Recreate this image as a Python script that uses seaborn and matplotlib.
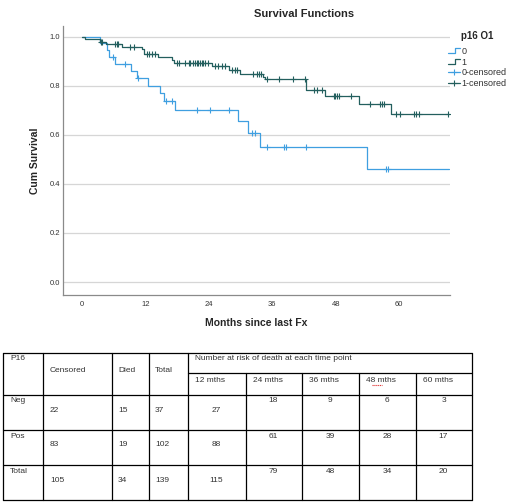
import numpy as np
import pandas as pd
import matplotlib
matplotlib.use("Agg")
import matplotlib.pyplot as plt
from matplotlib.lines import Line2D
from matplotlib.legend_handler import HandlerBase
import seaborn as sns

# Kaplan-Meier steps (months, cum survival)
neg_times = [3.5, 4.7, 5.2, 6.2, 9.3, 10.4, 12.5, 14.8, 15.5, 17.6, 29.6, 31.4, 33.7, 54.0]
neg_surv = [0.973, 0.946, 0.918, 0.889, 0.860, 0.830, 0.800, 0.769, 0.739, 0.700,
            0.655, 0.606, 0.551, 0.460]
neg_censor = [5.9, 8.2, 10.7, 16.0, 17.1, 21.7, 24.2, 27.9, 32.1, 32.8, 35.0, 38.2, 38.6,
              42.3, 57.5, 57.8]

pos_times = [0.6, 3.4, 4.6, 7.6, 11.3, 11.8, 14.4, 17.0, 17.4, 24.6, 27.9, 29.9, 34.2,
             34.6, 42.4, 46.0, 52.4, 58.4]
pos_surv = [0.990, 0.980, 0.970, 0.960, 0.950, 0.930, 0.918, 0.907, 0.895, 0.882, 0.864,
            0.847, 0.836, 0.826, 0.782, 0.760, 0.725, 0.687]
pos_censor = [3.6, 3.8, 6.3, 6.6, 6.9, 9.1, 9.9, 12.3, 12.7, 13.2, 13.9, 17.9, 18.3, 19.5,
              20.2, 20.5, 21.1, 21.4, 21.7, 22.0, 22.4, 22.7, 23.0, 23.3, 23.9, 25.2, 25.8,
              26.5, 27.1, 28.4, 29.0, 29.4, 32.4, 33.1, 33.4, 33.8, 35.0, 37.2, 40.0, 42.2,
              43.8, 44.5, 45.4, 47.6, 47.9, 48.2, 48.7, 50.8, 54.4, 56.3, 56.7, 57.1, 59.4,
              60.2, 62.8, 63.1, 63.8, 69.3]
last_followup = 69.4

x_ticks = [0, 12, 24, 36, 48, 60]
y_ticks = [0.0, 0.2, 0.4, 0.6, 0.8, 1.0]

# table under the chart
tab_groups = ["Neg", "Pos", "Total"]
tab_censored = [22, 83, 105]
tab_died = [15, 19, 34]
tab_total = [37, 102, 139]
risk_points = ["12 mths", "24 mths", "36 mths", "48 mths", "60 mths"]
risk_neg = [27, 18, 9, 6, 3]
risk_pos = [88, 61, 39, 28, 17]
risk_all = [115, 79, 48, 34, 20]

NEG_COL = "#3f9fe0"
POS_COL = "#235f5e"


def step_frame(times, surv, end):
    return pd.DataFrame({"t": [0.0] + list(times) + [end],
                         "s": [1.0] + list(surv) + [surv[-1]]})


def surv_at(times, surv, pts):
    idx = np.searchsorted(times, pts, side="right") - 1
    vals = np.asarray(surv)[np.clip(idx, 0, None)]
    return np.where(idx < 0, 1.0, vals)


class HandlerStep(HandlerBase):
    # little step glyph like the SPSS legend
    def create_artists(self, legend, orig_handle, xdescent, ydescent, width, height,
                       fontsize, trans):
        x0 = -xdescent
        xs = [x0, x0 + width * 0.6, x0 + width * 0.6, x0 + width]
        lo = -ydescent + height * 0.1
        hi = -ydescent + height * 0.85
        ln = Line2D(xs, [lo, lo, hi, hi], color=orig_handle.get_color(),
                    lw=orig_handle.get_linewidth())
        ln.set_transform(trans)
        return [ln]


sns.set_style("white")
plt.rcParams["font.family"] = ["Liberation Sans", "DejaVu Sans"]

W, H = 520, 503
fig = plt.figure(figsize=(5.2, 5.03), dpi=100)
ax = fig.add_axes([63.3 / W, 1 - 295 / H, (450 - 63.3) / W, (295 - 26) / H])

for yv in y_ticks:
    ax.axhline(yv, color="#d6d6d6", lw=0.9, zorder=0)

neg_df = step_frame(neg_times, neg_surv, last_followup)
pos_df = step_frame(pos_times, pos_surv, last_followup)
sns.lineplot(data=neg_df, x="t", y="s", drawstyle="steps-post", estimator=None,
             color=NEG_COL, lw=0.9, ax=ax)
sns.lineplot(data=pos_df, x="t", y="s", drawstyle="steps-post", estimator=None,
             color=POS_COL, lw=0.9, ax=ax)

sns.scatterplot(x=neg_censor, y=surv_at(neg_times, neg_surv, neg_censor), marker="+",
                s=18, color=NEG_COL, linewidth=0.8, ax=ax, zorder=3)
sns.scatterplot(x=pos_censor, y=surv_at(pos_times, pos_surv, pos_censor), marker="+",
                s=18, color=POS_COL, linewidth=0.8, ax=ax, zorder=3)

ax.set_xlim(-3.5, 69.6)
ax.set_ylim(-0.053, 1.044)
ax.set_xticks(x_ticks)
ax.set_yticks(y_ticks)
ax.set_yticklabels([f"{v:.1f}" for v in y_ticks])
ax.tick_params(length=0, labelsize=5.5, labelcolor="#333333")
ax.tick_params(axis="x", pad=4)
ax.tick_params(axis="y", pad=2.5)
ax.set_xlabel("")
ax.set_ylabel("")
for side in ["top", "right"]:
    ax.spines[side].set_visible(False)
for side in ["left", "bottom"]:
    ax.spines[side].set_color("#8a8a8a")
    ax.spines[side].set_linewidth(0.9)

fig.text(304 / W, 1 - 14 / H, "Survival Functions", ha="center", va="center",
         fontsize=8, fontweight="bold")
fig.text(256.5 / W, 1 - 323 / H, "Months since last Fx", ha="center", va="center",
         fontsize=7.5, fontweight="bold")
fig.text(35 / W, 1 - 160.5 / H, "Cum Survival", ha="center", va="center",
         rotation=90, fontsize=7.5, fontweight="bold")

h_neg = Line2D([], [], color=NEG_COL, lw=0.9)
h_pos = Line2D([], [], color=POS_COL, lw=0.9)
h_negc = Line2D([], [], color=NEG_COL, lw=0.9, marker="+", markersize=5, mew=0.8)
h_posc = Line2D([], [], color=POS_COL, lw=0.9, marker="+", markersize=5, mew=0.8)
leg = ax.legend([h_neg, h_pos, h_negc, h_posc], ["0", "1", "0-censored", "1-censored"],
                title="p16 O1", loc="upper left",
                bbox_to_anchor=(446 / W, 1 - 29.5 / H), bbox_transform=fig.transFigure,
                frameon=False, fontsize=6.5, handlelength=1.3, handletextpad=0.2,
                labelspacing=0.2, borderaxespad=0, borderpad=0.2,
                handler_map={h_neg: HandlerStep(), h_pos: HandlerStep()})
leg.get_title().set_fontweight("bold")
leg.get_title().set_fontsize(7)
leg._legend_box.sep = 4
for t in leg.get_texts():
    t.set_color("#333333")

# ---- table drawn in pixel space ----
tx = fig.add_axes([0, 0, 1, 1], zorder=-1)
tx.set_xlim(0, W)
tx.set_ylim(H, 0)
tx.axis("off")

col_edges = [3.3, 43.3, 111.7, 149, 188.3, 245.7, 302.3, 359, 415.7, 472.3]
row_edges = [352.7, 395, 430, 465.3, 500.3]
sub_y = 373.3
lkw = dict(color="black", lw=0.9)

for yy in row_edges:
    tx.plot([col_edges[0], col_edges[-1]], [yy, yy], **lkw)
tx.plot([col_edges[4], col_edges[-1]], [sub_y, sub_y], **lkw)
for i, xx in enumerate(col_edges):
    top = sub_y if 4 < i < len(col_edges) - 1 else row_edges[0]
    tx.plot([xx, xx], [top, row_edges[-1]], **lkw)

tkw = dict(fontsize=6, color="#333333", va="center")
tx.text(10, 358.5, "P16", ha="left", **tkw)
tx.text(50, 370.5, "Censored", ha="left", **tkw)
tx.text(118, 370.5, "Died", ha="left", **tkw)
tx.text(155, 370.5, "Total", ha="left", **tkw)
tx.text(195, 359, "Number at risk of death at each time point", ha="left", **tkw)
for j, lab in enumerate(risk_points):
    tx.text(col_edges[4 + j] + 7, 381 if j == 0 else 380, lab, ha="left", **tkw)
# spell-check squiggle under "48 mths"
tx.plot([372, 382], [384.5, 384.5], color="#e03030", lw=0.8, ls=(0, (1, 0.7)))

risk_rows = [risk_neg, risk_pos, risk_all]
for r, grp in enumerate(tab_groups):
    top = row_edges[1 + r]
    tx.text(10, top + 6, grp, ha="left", **tkw)
    tx.text(50, top + 15, str(tab_censored[r]), ha="left", **tkw)
    tx.text(118, top + 15, str(tab_died[r]), ha="left", **tkw)
    tx.text(155, top + 15, str(tab_total[r]), ha="left", **tkw)
    for j, val in enumerate(risk_rows[r]):
        cx = (col_edges[4 + j] + col_edges[5 + j]) / 2 - 0.5
        yy = top + 15 if j == 0 else top + 6
        tx.text(cx, yy, str(val), ha="center", **tkw)

fig.savefig("out.png", dpi=100)
